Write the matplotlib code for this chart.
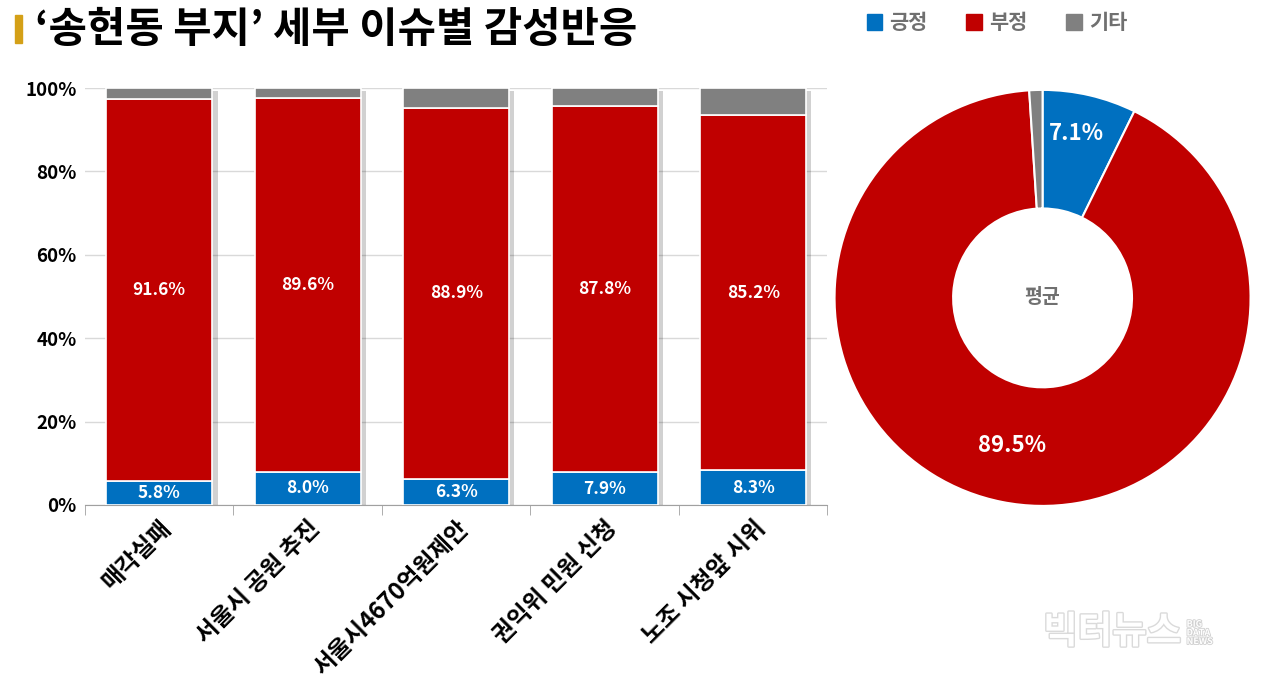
import matplotlib
matplotlib.use("Agg")
import matplotlib.pyplot as plt
import matplotlib.patheffects as pe
import numpy as np

plt.rcParams['font.family'] = ['Noto Sans CJK KR', 'DejaVu Sans']

categories = ['매각실패', '서울시 공원 추진', '서울시4670억원제안', '권익위 민원 신청', '노조 시청앞 시위']
positive = [5.8, 8.0, 6.3, 7.9, 8.3]
negative = [91.6, 89.6, 88.9, 87.8, 85.2]
other = [100 - p - n for p, n in zip(positive, negative)]

avg_labels = ['긍정', '부정', '기타']
avg_values = [7.1, 89.5, 1.0]

blue = '#0070C0'
red = '#C00000'
gray = '#808080'

fig = plt.figure(figsize=(12.8, 6.88), dpi=100)

# title
fig.patches.append(plt.Rectangle((0.012, 0.938), 0.005, 0.04, transform=fig.transFigure,
                                 color='#D4A017', zorder=5))
fig.text(0.027, 0.957, '‘송현동 부지’ 세부 이슈별 감성반응', fontsize=30, fontweight='bold',
         va='center', ha='left')

# legend
for i, (lab, col) in enumerate(zip(avg_labels, [blue, red, gray])):
    x = 0.677 + i * 0.078
    fig.patches.append(plt.Rectangle((x, 0.957), 0.012, 0.022, transform=fig.transFigure, color=col))
    fig.text(x + 0.018, 0.968, lab, fontsize=15, fontweight='bold', color='#707070',
             va='center', ha='left')

# bar chart
ax = fig.add_axes([0.0664, 0.266, 0.58, 0.606])
x = np.arange(len(categories))
w = 0.715
pos = np.array(positive)
neg = np.array(negative)
oth = np.array(other)

# shadows
ax.bar(x + 0.035, pos + neg + oth, w, bottom=-0.8, color='black', alpha=0.18, zorder=2)
ax.bar(x, pos, w, color=blue, edgecolor='white', linewidth=1.2, zorder=3)
ax.bar(x, neg, w, bottom=pos, color=red, edgecolor='white', linewidth=1.2, zorder=3)
ax.bar(x, oth, w, bottom=pos + neg, color=gray, edgecolor='white', linewidth=1.2, zorder=3)

for xi, p, n in zip(x, pos, neg):
    ax.text(xi, p / 2, f'{p:.1f}%', ha='center', va='center', color='white',
            fontsize=12.5, fontweight='bold', zorder=4)
    ax.text(xi, p + n / 2, f'{n:.1f}%', ha='center', va='center', color='white',
            fontsize=12.5, fontweight='bold', zorder=4)

ax.set_xlim(-0.5, len(categories) - 0.5)
ax.set_ylim(0, 100)
ax.set_yticks(range(0, 101, 20))
ax.set_yticklabels([f'{v}%' for v in range(0, 101, 20)], fontsize=13.5, fontweight='bold')
ax.yaxis.grid(True, color='#D9D9D9', linewidth=1, zorder=0)
ax.set_axisbelow(True)
ax.tick_params(axis='y', length=0, pad=6)
ax.set_xticks(x)
ax.set_xticklabels(categories, rotation=45, ha='right', rotation_mode='anchor',
                   fontsize=17, fontweight='bold')
ax.tick_params(axis='x', length=0, pad=8)
ax.set_xticks(np.arange(-0.5, len(categories), 1), minor=True)
ax.tick_params(axis='x', which='minor', length=7, color='#A0A0A0')
for s in ['top', 'right', 'left']:
    ax.spines[s].set_visible(False)
ax.spines['bottom'].set_color('#A0A0A0')

# donut
ax2 = fig.add_axes([0.652, 0.2645, 0.325, 0.605])
wedges, _ = ax2.pie(avg_values, colors=[blue, red, gray], startangle=90, counterclock=False,
                    wedgeprops=dict(width=0.57, edgecolor='white', linewidth=1.5))
ax2.set_xlim(-1.0, 1.0)
ax2.set_ylim(-1.0, 1.0)
ax2.set_aspect('equal')
ax2.text(0.165, 0.79, f'{avg_values[0]:.1f}%', ha='center', va='center', color='white',
         fontsize=16, fontweight='bold')
ax2.text(-0.145, -0.71, f'{avg_values[1]:.1f}%', ha='center', va='center', color='white',
         fontsize=16, fontweight='bold')
ax2.text(0, 0, '평균', ha='center', va='center', color='#707070', fontsize=14, fontweight='bold')

# watermark
outline = [pe.withStroke(linewidth=2, foreground='#DADADA')]
fig.text(0.815, 0.082, '빅터뉴스', fontsize=27, fontweight='bold', color='white',
         ha='left', va='center', path_effects=outline)
fig.text(0.927, 0.08, 'BIG\nDATA\nNEWS', fontsize=6.5, fontweight='bold', color='white',
         ha='left', va='center', linespacing=0.95,
         path_effects=[pe.withStroke(linewidth=1.2, foreground='#D0D0D0')])

fig.savefig('out.png', dpi=100)
